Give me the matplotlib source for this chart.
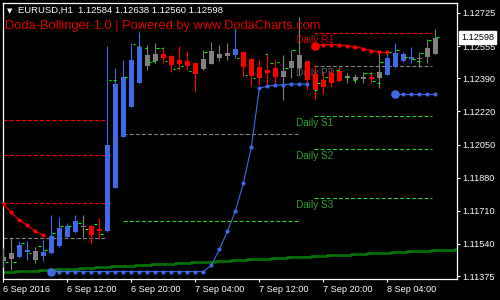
import matplotlib
matplotlib.use('Agg')
import matplotlib.pyplot as plt

plt.rcParams['lines.scale_dashes'] = False

# EURUSD H1, bar 0 = 6 Sep 2016 04:00 (one bar per hour)
state = ['n', 'n', 'u', 'u', 'n', 'u', 'u', 'u', 'u', 'u',
         'n', 'd', 'd', 'u', 'u', 'u', 'u', 'u', 'n', 'n',
         'd', 'd', 'd', 'd', 'd', 'n', 'n', 'n', 'n', 'u',
         'd', 'd', 'd', 'd', 'd', 'n', 'n', 'n', 'd', 'd',
         'd', 'd', 'd', 'n', 'n', 'n', 'd', 'n', 'u', 'u',
         'u', 'u', 'n', 'n', 'n']
opens = [1.11474, 1.11462, 1.11474, 1.11500, 1.11503, 1.11478, 1.11492, 1.11531, 1.11577, 1.11602,
         1.11632, 1.11632, 1.11616, 1.11608, 1.11828, 1.12090, 1.12244, 1.12364, 1.12509, 1.12480,
         1.12515, 1.12504, 1.12484, 1.12479, 1.12468, 1.12438, 1.12463, 1.12515, 1.12504, 1.12509,
         1.12525, 1.12489, 1.12449, 1.12432, 1.12443, 1.12398, 1.12441, 1.12441, 1.12476, 1.12412,
         1.12381, 1.12415, 1.12429, 1.12402, 1.12381, 1.12386, 1.12395, 1.12390, 1.12407, 1.12449,
         1.12480, 1.12490, 1.12494, 1.12498, 1.12515]
highs = [1.11517, 1.11569, 1.11556, 1.11555, 1.11525, 1.11560, 1.11688, 1.11678, 1.11647, 1.11688,
         1.11688, 1.11637, 1.11673, 1.12556, 1.12441, 1.12484, 1.12573, 1.12629, 1.12561, 1.12573,
         1.12552, 1.12509, 1.12556, 1.12530, 1.12468, 1.12535, 1.12576, 1.12561, 1.12571, 1.12648,
         1.12530, 1.12494, 1.12484, 1.12520, 1.12484, 1.12509, 1.12535, 1.12706, 1.12480, 1.12458,
         1.12424, 1.12438, 1.12449, 1.12419, 1.12412, 1.12424, 1.12424, 1.12518, 1.12526, 1.12573,
         1.12526, 1.12552, 1.12526, 1.12590, 1.12641]
lows = [1.11423, 1.11406, 1.11467, 1.11457, 1.11440, 1.11452, 1.11490, 1.11525, 1.11574, 1.11594,
        1.11574, 1.11538, 1.11569, 1.11601, 1.11828, 1.12090, 1.12244, 1.12364, 1.12432, 1.12470,
        1.12470, 1.12424, 1.12432, 1.12432, 1.12321, 1.12432, 1.12463, 1.12479, 1.12484, 1.12494,
        1.12398, 1.12350, 1.12355, 1.12347, 1.12366, 1.12278, 1.12391, 1.12407, 1.12330, 1.12282,
        1.12308, 1.12347, 1.12372, 1.12367, 1.12364, 1.12364, 1.12367, 1.12339, 1.12407, 1.12449,
        1.12475, 1.12467, 1.12449, 1.12470, 1.12515]
closes = [1.11452, 1.11492, 1.11534, 1.11509, 1.11457, 1.11497, 1.11580, 1.11621, 1.11632, 1.11657,
          1.11627, 1.11586, 1.11606, 1.12047, 1.12361, 1.12395, 1.12484, 1.12552, 1.12455, 1.12516,
          1.12496, 1.12458, 1.12463, 1.12453, 1.12413, 1.12489, 1.12530, 1.12494, 1.12520, 1.12540,
          1.12448, 1.12399, 1.12390, 1.12415, 1.12395, 1.12427, 1.12480, 1.12509, 1.12381, 1.12330,
          1.12344, 1.12364, 1.12378, 1.12393, 1.12395, 1.12398, 1.12388, 1.12424, 1.12492, 1.12518,
          1.12513, 1.12498, 1.12489, 1.12544, 1.12598]

# slow moving average (green)
ma_vals = [1.11397, 1.11397, 1.11402, 1.11402, 1.11402, 1.11407, 1.11407, 1.11412, 1.11412, 1.11412,
           1.11417, 1.11417, 1.11422, 1.11422, 1.11427, 1.11427, 1.11427, 1.11432, 1.11432, 1.11437,
           1.11437, 1.11437, 1.11442, 1.11442, 1.11447, 1.11447, 1.11447, 1.11452, 1.11452, 1.11457,
           1.11457, 1.11462, 1.11462, 1.11462, 1.11467, 1.11467, 1.11472, 1.11472, 1.11472, 1.11477,
           1.11477, 1.11482, 1.11482, 1.11482, 1.11487, 1.11487, 1.11492, 1.11492, 1.11492, 1.11497,
           1.11497, 1.11502, 1.11502, 1.11502, 1.11507, 1.11507, 1.11510, 1.11512]

# Doda-Bollinger trailing stops
red_a_bars = [0, 1, 2, 3, 4, 5]
red_a = [1.11745, 1.11702, 1.11662, 1.11635, 1.11606, 1.11584]
blue_a_bars = list(range(6, 39))
blue_a = [1.11398, 1.11398, 1.11398, 1.11398, 1.11398, 1.11398, 1.11398, 1.11398, 1.11398, 1.11398,
          1.11398, 1.11398, 1.11398, 1.11398, 1.11398, 1.11398, 1.11398, 1.11398, 1.11398, 1.11398,
          1.11430, 1.11512, 1.11604, 1.11707, 1.11851, 1.12036, 1.12338, 1.12350, 1.12354, 1.12357,
          1.12360, 1.12360, 1.12360]
red_b_bars = list(range(39, 49))
red_b = [1.12557, 1.12561, 1.12563, 1.12561, 1.12557, 1.12552, 1.12542, 1.12532, 1.12523, 1.12523]
blue_b_bars = [49, 50, 51, 52, 53, 54]
blue_b = [1.12308, 1.12308, 1.12308, 1.12308, 1.12308, 1.12308]

# small green markers next to candles (bar position, price)
mark_x = [0.21, 1.25, 2.21, 3.17, 4.30, 5.12, 6.12, 7.12, 8.12, 9.30,
          10.20, 11.37, 12.09, 13.15, 13.71, 15.09, 16.15, 16.78, 17.65, 18.15,
          18.60, 19.09, 19.65, 20.15, 21.15, 21.65, 22.15, 23.15, 25.09, 29.15,
          30.15, 31.15, 32.65, 33.34, 34.17, 35.20, 36.10, 38.84, 39.20, 40.20,
          41.60, 42.70, 43.70, 45.10, 45.70, 46.10, 46.70, 47.10, 48.10, 49.10,
          50.10, 51.05, 51.70, 52.10, 53.10, 54.10]
mark_y = [1.11445, 1.11445, 1.11546, 1.11492, 1.11531, 1.11509, 1.11594, 1.11632, 1.11633, 1.11649,
          1.11616, 1.11640, 1.11591, 1.12380, 1.12380, 1.12398, 1.12564, 1.12557, 1.12547, 1.12472,
          1.12479, 1.12544, 1.12544, 1.12479, 1.12438, 1.12441, 1.12453, 1.12426, 1.12523, 1.12494,
          1.12407, 1.12390, 1.12513, 1.12467, 1.12475, 1.12441, 1.12535, 1.12330, 1.12364, 1.12398,
          1.12432, 1.12398, 1.12381, 1.12415, 1.12419, 1.12376, 1.12366, 1.12472, 1.12525, 1.12535,
          1.12499, 1.12489, 1.12480, 1.12518, 1.12586, 1.12600]

# daily pivot levels: (start bar, end bar, price, kind)
piv_start = [-0.04, -0.04, -0.04, -0.04, 14.96, 14.96, 38.84, 38.84, 38.84, 38.84, 38.84]
piv_end = [12.96, 12.96, 12.96, 12.96, 36.96, 36.96, 53.59, 53.59, 53.59, 53.59, 53.59]
piv_price = [1.12176, 1.11995, 1.11748, 1.11569, 1.12102, 1.11656,
             1.12621, 1.12453, 1.12195, 1.12025, 1.11774]
piv_kind = ['r', 'r', 'r', 'p', 'p', 's', 'r', 'p', 's', 's', 's']
piv_labels = ['Daily R1', 'Daily PP', 'Daily S1', 'Daily S2', 'Daily S3']
piv_label_price = [1.12621, 1.12453, 1.12195, 1.12025, 1.11774]
piv_label_kind = ['r', 'p', 's', 's', 's']

ytick_vals = [1.12725, 1.12555, 1.12390, 1.12220, 1.12050, 1.11880, 1.11710, 1.11540, 1.11375]
xtick_bars = [0, 8, 16, 24, 32, 40, 48]
xtick_labels = ['6 Sep 2016', '6 Sep 12:00', '6 Sep 20:00', '7 Sep 04:00',
                '7 Sep 12:00', '7 Sep 20:00', '8 Sep 04:00']
header = 'EURUSD,H1  1.12584 1.12638 1.12560 1.12598'
title = 'Doda-Bollinger 1.0 | Powered by www.DodaCharts.com'
last_price = 1.12598

CLR_UP = '#4169E1'
CLR_DN = '#FF0000'
CLR_NT = '#808080'
candle_clr = {'u': CLR_UP, 'd': CLR_DN, 'n': CLR_NT}
piv_clr = {'r': '#FF0000', 'p': '#808080', 's': '#32CD32'}
piv_txt = {'r': '#D00000', 'p': '#555C66', 's': '#2EA02E'}
FONT = 'Liberation Sans'

fig = plt.figure(figsize=(5, 3), dpi=100, facecolor='black')
ax = fig.add_axes([3 / 500, 21 / 300, 454 / 500, 276 / 300])
ax.set_facecolor('black')
ax.set_xlim(-0.04, 56.71)
ax.set_ylim(1.11360, 1.12776)

# pivots
for x0, x1, p, k in zip(piv_start, piv_end, piv_price, piv_kind):
    ax.plot([x0, x1], [p, p], color=piv_clr[k], lw=0.8, dashes=(2.9, 1.5), zorder=1)
for lbl, p, k in zip(piv_labels, piv_label_price, piv_label_kind):
    ax.annotate(lbl, xy=(36.6, p), xytext=(0, -1.2), textcoords='offset points',
                ha='left', va='top', fontsize=7.2, family=FONT,
                color=piv_txt[k], zorder=1.5)

# moving average (double stair line)
bars_ma = list(range(len(ma_vals)))
ax.step(bars_ma, ma_vals, where='mid', color='#008000', lw=1.8, zorder=2)
ax.step(bars_ma, ma_vals, where='post', color='#0C6A0C', lw=0.7, zorder=2)

# candles
for i in range(len(opens)):
    c = candle_clr[state[i]]
    ax.vlines(i, lows[i], highs[i], color=c, lw=0.8, zorder=3)
    lo, hi = min(opens[i], closes[i]), max(opens[i], closes[i])
    h = max(hi - lo, 0.00004)
    ax.bar(i, h, bottom=(lo + hi) / 2 - h / 2, width=0.62, color=c, lw=0, zorder=3)

ax.hlines(mark_y, mark_x, [x + 0.35 for x in mark_x], color='#00FF00', lw=0.8, zorder=4)

# trailing stop dots
for bx, vals, c in [(red_a_bars, red_a, CLR_DN), (blue_a_bars, blue_a, CLR_UP),
                    (red_b_bars, red_b, CLR_DN), (blue_b_bars, blue_b, CLR_UP)]:
    ax.plot(bx, vals, '-o', color=c, lw=0.8, ms=3.0, mew=0, zorder=5)
for bx, vals, c in [(blue_a_bars, blue_a, CLR_UP), (red_b_bars, red_b, CLR_DN),
                    (blue_b_bars, blue_b, CLR_UP)]:
    ax.plot(bx[0], vals[0], 'o', color=c, ms=6.2, mew=0, zorder=5)

# axes styling
for side in ['left', 'right', 'top', 'bottom']:
    ax.spines[side].set_color('white')
    ax.spines[side].set_linewidth(0.9)
ax.yaxis.tick_right()
ax.set_yticks(ytick_vals)
ax.set_yticklabels([f'{v:.5f}' for v in ytick_vals])
ax.set_xticks(xtick_bars)
ax.set_xticklabels(xtick_labels)
for lbl in ax.get_xticklabels():
    lbl.set_ha('left')
ax.tick_params(colors='white', labelsize=6.6, length=2.5, width=0.8, pad=1.5)
ax.tick_params(axis='x', pad=2)
for lbl in ax.get_xticklabels() + ax.get_yticklabels():
    lbl.set_family(FONT)

# current price box
ax.annotate(f'{last_price:.5f}', xy=(1.0, last_price), xycoords=('axes fraction', 'data'),
            xytext=(3, 0), textcoords='offset points', ha='left', va='center',
            fontsize=6.6, family=FONT, color='black', annotation_clip=False,
            bbox=dict(boxstyle='square,pad=0.25', fc='white', ec='white'), zorder=10)

# header texts
fig.text(9.5 / 500, 1 - 11 / 300, '\u25bc', ha='center', va='center', fontsize=5, color='white')
fig.text(18 / 500, 1 - 10.5 / 300, header, ha='left', va='center', fontsize=6.8,
         family=FONT, color='white')
fig.text(5 / 500, 1 - 26.5 / 300, title, ha='left', va='center', fontsize=9.3,
         family=FONT, color='#DD0000')

fig.savefig('out.png', dpi=100, facecolor='black')
